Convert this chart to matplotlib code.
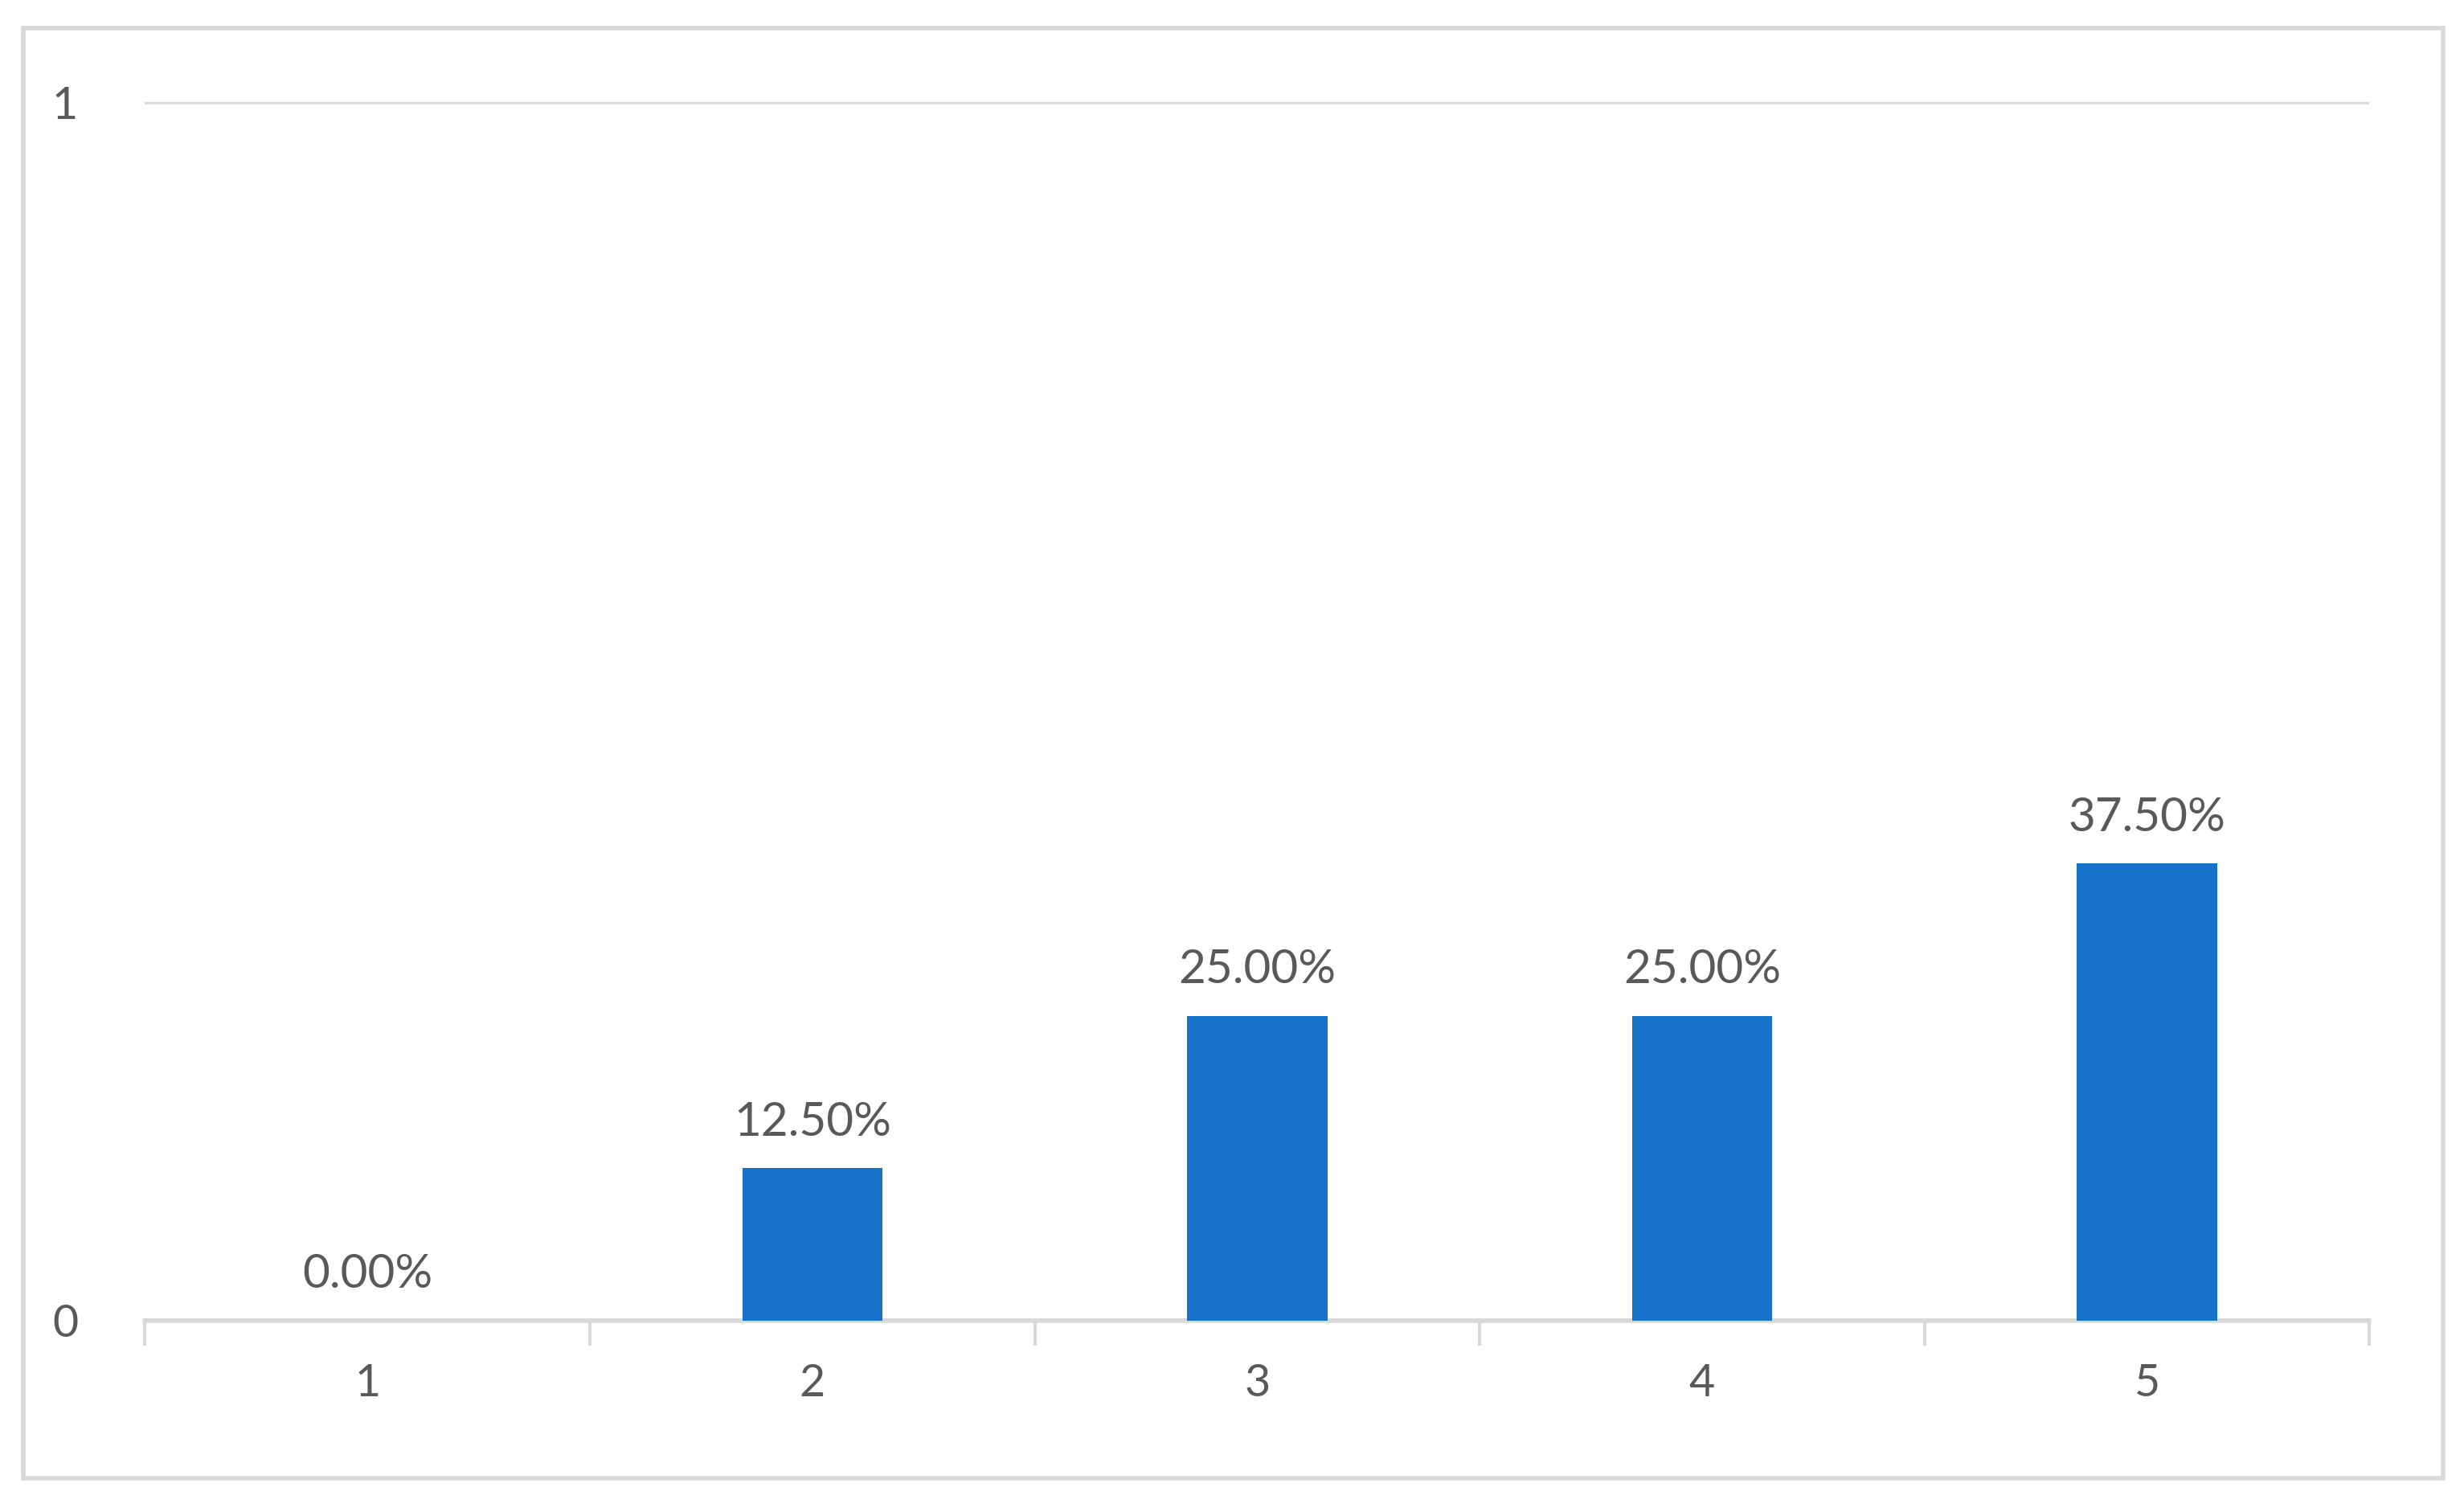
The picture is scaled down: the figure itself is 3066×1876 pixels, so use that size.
import matplotlib
matplotlib.use("Agg")
import matplotlib.pyplot as plt
from matplotlib.patches import Rectangle

categories = ["1", "2", "3", "4", "5"]
values = [0.0, 0.125, 0.25, 0.25, 0.375]
labels = ["0.00%", "12.50%", "25.00%", "25.00%", "37.50%"]

plt.rcParams['font.family'] = ['Lato', 'DejaVu Sans']
fig = plt.figure(figsize=(30.66, 18.76), dpi=100)
fig.patches.append(Rectangle((15/1563, 1-938/957), (1550-15)/1563, (938-18)/957,
                             transform=fig.transFigure, fill=False, ec='#d9d9d9', lw=4))
ax = fig.add_axes([92/1563, 1-838/957, (1503-92)/1563, (838-65)/957])
x = range(len(categories))
ax.bar(x, values, width=0.315, color='#1772c9', zorder=3)
for i, (v, l) in enumerate(zip(values, labels)):
    ax.annotate(l, (i, v), xytext=(0, 22), textcoords='offset points', ha='center', va='bottom',
                fontsize=42, color='#595959')
ax.set_xlim(-0.5, 4.5)
ax.set_ylim(0, 1)
ax.set_yticks([0, 1])
ax.set_yticklabels(["0", "1"])
ax.yaxis.grid(True, color='#d9d9d9', lw=4, zorder=0)
ax.set_xticks(list(x))
ax.set_xticklabels(categories)
ax.set_xticks([-0.5, 0.5, 1.5, 2.5, 3.5, 4.5], minor=True)
ax.tick_params(axis='x', which='major', length=0, pad=38, labelsize=40, labelcolor='#595959')
ax.tick_params(axis='x', which='minor', length=22, width=3, color='#d9d9d9')
ax.tick_params(axis='y', length=0, pad=60, labelsize=40, labelcolor='#595959')
for s in ['top', 'right', 'left']:
    ax.spines[s].set_visible(False)
ax.spines['bottom'].set_color('#d9d9d9')
ax.spines['bottom'].set_linewidth(4)
fig.savefig("out.png", dpi=100)
